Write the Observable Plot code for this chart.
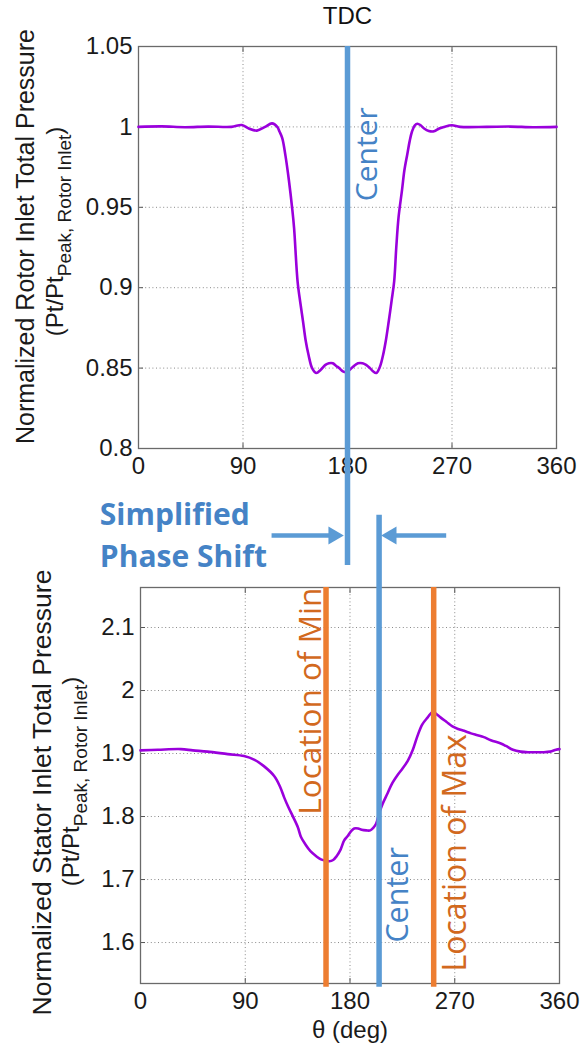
<!DOCTYPE html>
<html><head><meta charset="utf-8">
<script src="https://cdn.jsdelivr.net/npm/d3@7"></script>
<script src="https://cdn.jsdelivr.net/npm/@observablehq/plot@0.6"></script>
<style>
html,body{margin:0;padding:0;background:#fff;}
#wrap{position:relative;width:582px;height:1046px;overflow:hidden;background:#fff;}
#wrap svg{position:absolute;left:0;}
</style></head><body><div id="wrap"></div>
<script>
// ---------- data ----------
const xTicks = [0, 90, 180, 270, 360];
const rotorTicks = [0.8, 0.85, 0.9, 0.95, 1, 1.05];
const statorTicks = [1.6, 1.7, 1.8, 1.9, 2, 2.1];
const rotorDomain = [0.8, 1.05];
const statorDomain = [1.535, 2.1635];

const rotorTheta = [0,20,40,60,80,89,95,102,109,115,119.5,121.5,123.8,126.6,129.5,132.4,134,137,139.5,141.7,144,146.5,149.5,153,157,161,164,167.3,170,172.8,176,179,182,185,189,193,196,199.3,202,204.8,208,210.6,213,215.5,218,220.2,222,224,227,229,231.5,233.5,235.5,238,240.2,243,246,250,254.5,259,263,270,277,300,320,340,360];
const rotorPt    = [1.0,1.0003,0.9998,1.0002,1.0,1.0012,0.999,0.9977,1.0,1.0022,1.0,0.997,0.993,0.982,0.967,0.949,0.937,0.904,0.89,0.879,0.867,0.858,0.85,0.847,0.849,0.852,0.853,0.853,0.8515,0.85,0.848,0.8475,0.849,0.851,0.853,0.853,0.852,0.85,0.848,0.847,0.851,0.858,0.867,0.879,0.892,0.904,0.925,0.944,0.961,0.973,0.983,0.991,0.997,1.001,1.002,1.001,0.999,0.9975,0.9973,0.999,1.0,1.001,1.0,1.0,1.0002,0.9998,1.0];

const statorTheta = [0,15,34.7,45,57.6,75,89,98,106,115,120,123.5,127,130.7,135.2,138,141.6,146,151,155,159,162.3,165.5,168.5,171.8,175,178,181,183.6,187,190,194,197.4,200,202.5,205,208,212.3,216,220.9,225,229.5,234,238,242,246.6,251,254,258,263,268,273,278,284,289.6,295,301,309.6,314,320,326.5,333,339.3,346,352,357,360];
const statorPt    = [1.905,1.906,1.907,1.905,1.903,1.899,1.896,1.89,1.88,1.864,1.847,1.83,1.815,1.801,1.783,1.767,1.756,1.745,1.737,1.732,1.73,1.729,1.731,1.737,1.747,1.762,1.769,1.777,1.781,1.781,1.779,1.778,1.778,1.782,1.789,1.805,1.82,1.837,1.852,1.866,1.876,1.888,1.906,1.928,1.946,1.957,1.966,1.963,1.957,1.95,1.943,1.939,1.936,1.932,1.929,1.926,1.921,1.916,1.912,1.906,1.903,1.902,1.902,1.902,1.903,1.906,1.907];

// annotation markers (data units)
const tdcTheta = 180;            // rotor centre line
const tdcLineEnd = 0.7272;       // rotor-scale value where the rotor centre line stops
const statorCenterTheta = 205;
const statorMinTheta = 159.4;
const statorMaxTheta = 251.9;
const statorLineTop = 2.278;     // stator-scale value where the stator centre line starts
const statorLineBottom = 1.529;
const arrowY = 0.7459;
const arrowShafts = [{x1: 114.6, x2: 168}, {x1: 265, x2: 217.8}];
const arrowHeads = [{x: 168, rot: 90}, {x: 217.8, rot: -90}];
const phaseText = [{t: "Simplified", x: -33.3, y: 0.7527}, {t: "Phase Shift", x: -33.3, y: 0.7266}];
const rotorCenterLabel = {x: 205.2, y: 0.983};
const minLabel = {x: 155, y: 1.983};
const maxLabel = {x: 279.6, y: 1.7424};
const statorCenterLabel = {x: 229.7, y: 1.6757};

// ---------- styles ----------
const BLUE = "#5b9bd5", BLUE_T = "#4583c6", ORANGE = "#ed7d31", ORANGE_T = "#d2691e", PURPLE = "#9a00dc";
const FONT = "Liberation Sans, Arial, sans-serif";
const CAL = "Open Sans, Lato, sans-serif";
const gridStyle = {stroke: "#8a8a8a", strokeOpacity: 1, strokeWidth: 1, strokeDasharray: "1,2.6"};
const fmt = d => String(d);

const rotor = rotorTheta.map((t, i) => ({t, v: rotorPt[i]}));
const stator = statorTheta.map((t, i) => ({t, v: statorPt[i]}));

function frameAxes(yTicks) {
  return [
    Plot.gridX(xTicks, gridStyle),
    Plot.gridY(yTicks, gridStyle),
    Plot.axisX(xTicks, {anchor: "bottom", tickSize: -5, tickPadding: 13, fontSize: 24, tickFormat: fmt, label: null, stroke: "#555"}),
    Plot.axisX(xTicks, {anchor: "top", tickSize: -5, tickFormat: () => "", label: null, stroke: "#555"}),
    Plot.axisY(yTicks, {anchor: "left", tickSize: -5, tickPadding: 11, fontSize: 24, tickFormat: fmt, label: null, stroke: "#555"}),
    Plot.axisY(yTicks, {anchor: "right", tickSize: -5, tickFormat: () => "", label: null, stroke: "#555"}),
    Plot.frame({stroke: "#6a6a6a", strokeWidth: 1.3})
  ];
}

const yLab = {frameAnchor: "left", rotate: -90, textAnchor: "middle", lineAnchor: "bottom", fill: "#1a1a1a"};

const topPlot = Plot.plot({
  width: 582, height: 580,
  marginTop: 46, marginBottom: 132, marginLeft: 138, marginRight: 26,
  style: {background: "transparent", fontFamily: FONT, color: "#1a1a1a", overflow: "visible"},
  x: {domain: [0, 360], label: null},
  y: {domain: rotorDomain, label: null},
  marks: [
    ...frameAxes(rotorTicks),
    Plot.line(rotor, {x: "t", y: "v", stroke: PURPLE, strokeWidth: 2.6, curve: "catmull-rom"}),
    Plot.ruleX([tdcTheta], {y1: rotorDomain[1], y2: tdcLineEnd, stroke: BLUE, strokeWidth: 5.5}),
    Plot.text(["Center"], {x: rotorCenterLabel.x, y: rotorCenterLabel.y, rotate: -90, textAnchor: "middle", lineAnchor: "bottom", fill: BLUE_T, fontSize: 30, fontFamily: CAL}),
    Plot.text(["TDC"], {frameAnchor: "top", dy: -30, lineAnchor: "middle", fontSize: 24, fill: "#111"}),
    Plot.link(arrowShafts, {x1: "x1", x2: "x2", y1: arrowY, y2: arrowY, stroke: BLUE, strokeWidth: 4.5}),
    Plot.dot(arrowHeads, {x: "x", y: arrowY, symbol: "triangle", r: 6.6, fill: BLUE, stroke: "none", rotate: "rot"}),
    Plot.text(phaseText, {x: "x", y: "y", text: "t", textAnchor: "start", lineAnchor: "bottom", fill: BLUE_T, fontSize: 30, fontWeight: "bold", fontFamily: CAL}),
    Plot.text(["Normalized Rotor Inlet Total Pressure"], {...yLab, dx: -105, dy: -11, fontSize: 25}),
    Plot.text(["(Pt/Pt|Peak, Rotor Inlet|)"], {...yLab, dx: -76, dy: -16, fontSize: 24})
  ]
});

const botPlot = Plot.plot({
  width: 582, height: 546,
  marginTop: 87, marginBottom: 63, marginLeft: 140, marginRight: 23,
  style: {background: "transparent", fontFamily: FONT, color: "#1a1a1a", overflow: "visible"},
  x: {domain: [0, 360], label: null},
  y: {domain: statorDomain, label: null},
  marks: [
    ...frameAxes(statorTicks),
    Plot.line(stator, {x: "t", y: "v", stroke: PURPLE, strokeWidth: 2.6, curve: "catmull-rom"}),
    Plot.ruleX([statorMinTheta, statorMaxTheta], {y1: statorDomain[1], y2: statorLineBottom, stroke: ORANGE, strokeWidth: 5.5}),
    Plot.ruleX([statorCenterTheta], {y1: statorLineTop, y2: statorLineBottom, stroke: BLUE, strokeWidth: 5.5}),
    Plot.text(["Location of Min"], {x: minLabel.x, y: minLabel.y, rotate: -90, textAnchor: "middle", lineAnchor: "bottom", fill: ORANGE_T, fontSize: 31.5, fontFamily: CAL}),
    Plot.text(["Location of Max"], {x: maxLabel.x, y: maxLabel.y, rotate: -90, textAnchor: "middle", lineAnchor: "bottom", fill: ORANGE_T, fontSize: 32, fontFamily: CAL}),
    Plot.text(["Center"], {x: statorCenterLabel.x, y: statorCenterLabel.y, rotate: -90, textAnchor: "middle", lineAnchor: "bottom", fill: BLUE_T, fontSize: 30.5, fontFamily: CAL}),
    Plot.text(["θ (deg)"], {frameAnchor: "bottom", dy: 47, lineAnchor: "middle", fontSize: 24, fill: "#1a1a1a"}),
    Plot.text(["Normalized Stator Inlet Total Pressure"], {...yLab, dx: -90, dy: 7, fontSize: 26.5}),
    Plot.text(["(Pt/Pt|Peak, Rotor Inlet|)"], {...yLab, dx: -62, dy: -4, fontSize: 24})
  ]
});

function subscriptify(svg) {
  svg.querySelectorAll("text").forEach(t => {
    if (t.children.length === 0 && t.textContent.includes("|")) {
      const [a, b, c] = t.textContent.split("|");
      t.textContent = "";
      const mk = (s, fs, dy) => {
        const ts = document.createElementNS("http://www.w3.org/2000/svg", "tspan");
        ts.textContent = s;
        ts.setAttribute("font-size", fs);
        if (dy) ts.setAttribute("dy", dy);
        t.appendChild(ts);
      };
      mk(a, 24, 0); mk(b, 19, 8); mk(c, 24, -8);
    }
  });
}
subscriptify(topPlot);
subscriptify(botPlot);

topPlot.style.top = "0px";
botPlot.style.top = "500px";
const wrap = document.getElementById("wrap");
wrap.appendChild(topPlot);
wrap.appendChild(botPlot);
</script></body></html>
